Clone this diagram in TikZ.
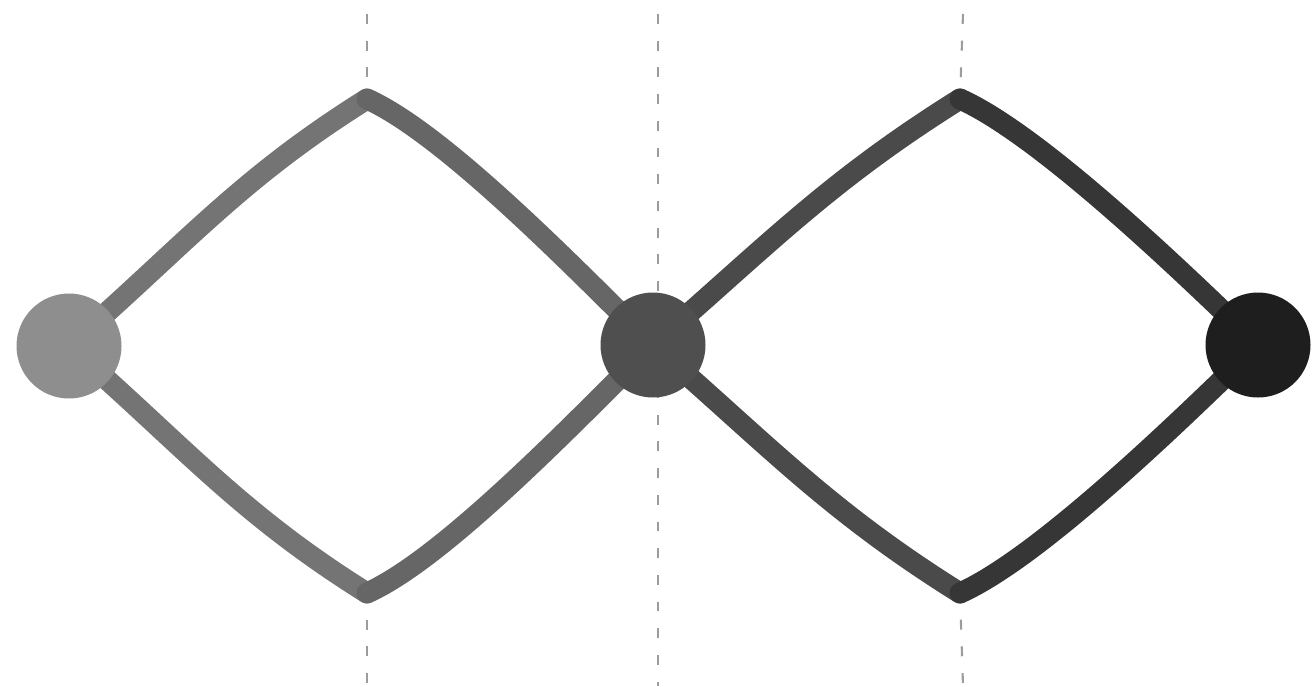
\documentclass[tikz,border=0pt]{standalone}
\usetikzlibrary{backgrounds}

\definecolor{dotA}{HTML}{8E8E8E}
\definecolor{dotB}{HTML}{4F4F4F}
\definecolor{dotC}{HTML}{1E1E1E}
\definecolor{linkA}{HTML}{747474}
\definecolor{linkB}{HTML}{666666}
\definecolor{linkC}{HTML}{4A4A4A}
\definecolor{linkD}{HTML}{363636}
\definecolor{guidegray}{HTML}{9C9C9C}

\tikzset{
  dot/.style={circle, inner sep=0pt, minimum size=1.05cm},
  link/.style={line width=0.21cm, line cap=round, line join=round},
  guide/.style={guidegray, line width=0.6pt, dash pattern=on 2.8pt off 4.8pt},
}

\begin{document}
\begin{tikzpicture}

% --- Frame (reference proportions) ---
\useasboundingbox (0,0) rectangle (13.16,6.86);

% --- Dots ---
\node[dot, fill=dotA] (a) at (0.69,3.40) {};
\node[dot, fill=dotB] (b) at (6.53,3.41) {};
\node[dot, fill=dotC] (c) at (12.58,3.41) {};

% --- Diamond corners ---
\coordinate (t1) at (3.67,5.87);
\coordinate (b1) at (3.67,0.93);
\coordinate (t2) at (9.60,5.87);
\coordinate (b2) at (9.60,0.93);

% --- Ends of the dotted guides ---
\coordinate (g1t) at (3.67,6.72);
\coordinate (g1b) at (3.67,0);
\coordinate (g2t) at (6.58,6.72);
\coordinate (g2b) at (6.58,0);
\coordinate (g3t) at (9.63,6.72);
\coordinate (g3b) at (9.63,0);

\begin{scope}[on background layer]
  % guides
  \draw[guide] (g1t) -- (t1);
  \draw[guide] (b1) -- (g1b);
  \draw[guide] (g2t) -- (g2b);
  \draw[guide] (g3t) -- (t2);
  \draw[guide] (b2) -- (g3b);

  % left diamond
  \draw[link, draw=linkA] (a.center) to[out=41, in=212] (t1);
  \draw[link, draw=linkA] (a.center) to[out=-41, in=148] (b1);
  \draw[link, draw=linkB] (t1) to[out=-24, in=136, looseness=0.6] (b.center);
  \draw[link, draw=linkB] (b1) to[out=24, in=-136, looseness=0.6] (b.center);

  % right diamond
  \draw[link, draw=linkC] (b.center) to[out=41, in=212] (t2);
  \draw[link, draw=linkC] (b.center) to[out=-41, in=148] (b2);
  \draw[link, draw=linkD] (t2) to[out=-24, in=136, looseness=0.6] (c.center);
  \draw[link, draw=linkD] (b2) to[out=24, in=-136, looseness=0.6] (c.center);
\end{scope}

\end{tikzpicture}
\end{document}
